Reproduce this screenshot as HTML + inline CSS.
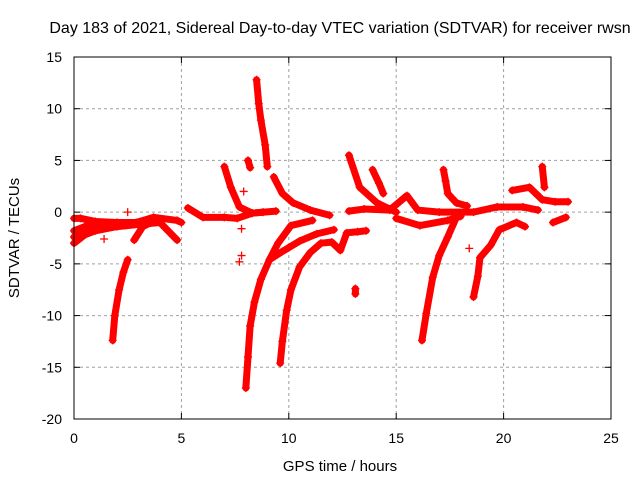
<!DOCTYPE html>
<html><head><meta charset="utf-8"><style>
body{margin:0;background:#fff}
svg{display:block;font-family:"Liberation Sans",sans-serif}
</style></head><body>
<svg id="chart" width="640" height="480">
<rect width="640" height="480" fill="#fff"/>
<g id="grid"></g>
<g id="ticks"></g>
<g id="marks"></g>
<rect x="74" y="57" width="537" height="362" fill="none" stroke="#000" stroke-width="1"/>
<text x="340" y="33" text-anchor="middle" font-size="16">Day 183 of 2021, Sidereal Day-to-day VTEC variation (SDTVAR) for receiver rwsn</text>
<text x="340" y="471" text-anchor="middle" font-size="15">GPS time / hours</text>
<text transform="translate(19,238) rotate(-90)" text-anchor="middle" font-size="15">SDTVAR / TECUs</text>
</svg>
<script>
const xTicks=[0,5,10,15,20,25];
const yTicks=[15,10,5,0,-5,-10,-15,-20];
const trackBase1x=[0,0.3,1,2,2.9,3.7,4.8,5.0];
const trackBase1y=[-0.6,-0.6,-0.9,-1.0,-1.0,-0.5,-0.8,-1.0];
const trackBase2x=[0,0.5,1,2,3,4,4.8];
const trackBase2y=[-3.0,-2.2,-1.8,-1.4,-1.2,-1.0,-2.7];
const trackBase3x=[0,0.5,1.5];
const trackBase3y=[-1.8,-1.4,-1.2];
const trackBase4x=[0,0.4,1.0];
const trackBase4y=[-2.4,-1.9,-1.5];
const trackBx=[1.8,1.9,2.1,2.3,2.5];
const trackBy=[-12.4,-10,-7.5,-5.8,-4.6];
const trackCx=[2.8,3.2,3.6];
const trackCy=[-2.7,-1.4,-1.0];
const trackDx=[5.3,6.0,7.0,7.6,8.3,9.4];
const trackDy=[0.4,-0.5,-0.5,-0.6,-0.1,0.1];
const trackEx=[7.0,7.3,7.7,8.3,8.8];
const trackEy=[4.4,2.4,0.5,-0.1,0];
const trackFx=[8.1,8.2];
const trackFy=[5.0,4.3];
const trackGx=[8.5,8.6,8.7,8.9,9.0];
const trackGy=[12.8,10.5,8.9,6.5,4.4];
const trackHx=[8.0,8.1,8.2,8.4,8.7,9.1,9.5,10.1,11.1];
const trackHy=[-17,-14,-11,-8.7,-6.5,-4.6,-3.0,-1.3,-0.8];
const trackH2x=[9.1,9.7,10.5,11.3,12.1];
const trackH2y=[-4.6,-3.8,-2.8,-2.1,-1.7];
const trackIx=[9.6,9.7,9.9,10.1,10.5,11.0,11.5,12.0,12.4,12.7,13.2,13.6];
const trackIy=[-14.6,-12.5,-9.5,-7.5,-5.3,-3.9,-3.0,-2.9,-3.7,-2.0,-1.9,-1.8];
const trackJx=[9.3,9.7,10.2,11.0,11.9];
const trackJy=[3.4,1.8,0.9,0.2,-0.3];
const trackLx=[12.8,13.3,14.1,14.7,15.0];
const trackLy=[5.5,2.4,0.9,0.3,0];
const trackMx=[13.9,14.2,14.4];
const trackMy=[4.1,2.8,1.8];
const trackNx=[13.1,13.1];
const trackNy=[-7.4,-7.9];
const trackOx=[12.8,13.5,14.7,15.5,16.0,17.0,18.6,19.7,20.9,21.6];
const trackOy=[0.1,0.3,0.2,1.6,0.2,0,0,0.5,0.5,0.2];
const trackO2x=[15.0,16.1,17.4,18.0];
const trackO2y=[-0.6,-1.3,-0.8,-0.4];
const trackPx=[16.2,16.4,16.7,17.0,17.4,17.8];
const trackPy=[-12.4,-9.8,-6.3,-4.2,-2.4,-0.5];
const trackQx=[17.2,17.3,17.4,17.8,18.3];
const trackQy=[4.1,3.0,1.8,0.9,0.6];
const trackRx=[18.6,18.8,18.9,19.4,19.8,20.6,21.0];
const trackRy=[-8.2,-6.2,-4.4,-3.2,-1.7,-1.0,-1.4];
const trackTx=[20.4,21.2,21.8,22.4,23.0];
const trackTy=[2.1,2.4,1.2,1.0,1.0];
const trackUx=[21.8,21.9];
const trackUy=[4.4,2.4];
const trackVx=[22.3,22.9];
const trackVy=[-1.0,-0.5];
const singleX=[1.4,2.5,7.7,7.8,7.9,18.4,7.8];
const singleY=[-2.6,0,-4.8,-4.2,2.0,-3.5,-1.6];

const tracks=[[trackBase1x,trackBase1y],[trackBase2x,trackBase2y],[trackBase3x,trackBase3y],[trackBase4x,trackBase4y],[trackBx,trackBy],[trackCx,trackCy],[trackDx,trackDy],[trackEx,trackEy],[trackFx,trackFy],[trackGx,trackGy],[trackHx,trackHy],[trackH2x,trackH2y],[trackIx,trackIy],[trackJx,trackJy],[trackLx,trackLy],[trackMx,trackMy],[trackNx,trackNy],[trackOx,trackOy],[trackO2x,trackO2y],[trackPx,trackPy],[trackQx,trackQy],[trackRx,trackRy],[trackTx,trackTy],[trackUx,trackUy],[trackVx,trackVy]];

const X0=74,X1=611,Y0=419,Y1=57;
function sx(v){return X0+(v-0)/(25-0)*(X1-X0);}
function sy(v){return Y0-(v-(-20))/(15-(-20))*(Y0-Y1);}
const NS='http://www.w3.org/2000/svg';
const grid=document.getElementById('grid'),ticks=document.getElementById('ticks'),marks=document.getElementById('marks');
function mk(tag,attrs,parent){const e=document.createElementNS(NS,tag);for(const k in attrs)e.setAttribute(k,attrs[k]);parent.appendChild(e);return e;}
xTicks.forEach(t=>{
  const x=sx(t);
  if(t>0&&t<25){const g=mk('line',{x1:x,x2:x,y1:Y1,y2:Y0,stroke:'#a0a0a0','stroke-dasharray':'3,3'},grid);
  
  }
  mk('line',{x1:x,x2:x,y1:Y0,y2:Y0-6,stroke:'#000'},ticks);
  mk('line',{x1:x,x2:x,y1:Y1,y2:Y1+6,stroke:'#000'},ticks);
  const tx=mk('text',{x:x,y:Y0+24,'text-anchor':'middle','font-size':'14'},ticks);
  tx.textContent=t;
  
  
});
yTicks.forEach(t=>{
  const y=sy(t);
  if(t>-20&&t<15){const g=mk('line',{x1:X0,x2:X1,y1:y,y2:y,stroke:'#a0a0a0','stroke-dasharray':'3,3'},grid);
  
  }
  mk('line',{x1:X0,x2:X0+6,y1:y,y2:y,stroke:'#000'},ticks);
  mk('line',{x1:X1,x2:X1-6,y1:y,y2:y,stroke:'#000'},ticks);
  const tx=mk('text',{x:X0-12,y:y+5,'text-anchor':'end','font-size':'14'},ticks);
  tx.textContent=t;
  
  
});
function plus(x,y){
  const p=mk('path',{d:`M${sx(x)-4},${sy(y)}h8M${sx(x)},${sy(y)-4}v8`,stroke:'#f00','stroke-width':'1.3',fill:'none'},marks);
  
  
}
tracks.forEach(tr=>{
  const xs=tr[0],ys=tr[1];
  const pts=xs.map((v,i)=>sx(v)+','+sy(ys[i])).join(' ');
  const pl=mk('polyline',{points:pts,fill:'none',stroke:'#f00','stroke-width':'7','stroke-linejoin':'round','stroke-linecap':'round'},marks);
  
  
  xs.forEach((v,i)=>plus(v,ys[i]));
});
singleX.forEach((v,i)=>plus(v,singleY[i]));
</script>
</body></html>
